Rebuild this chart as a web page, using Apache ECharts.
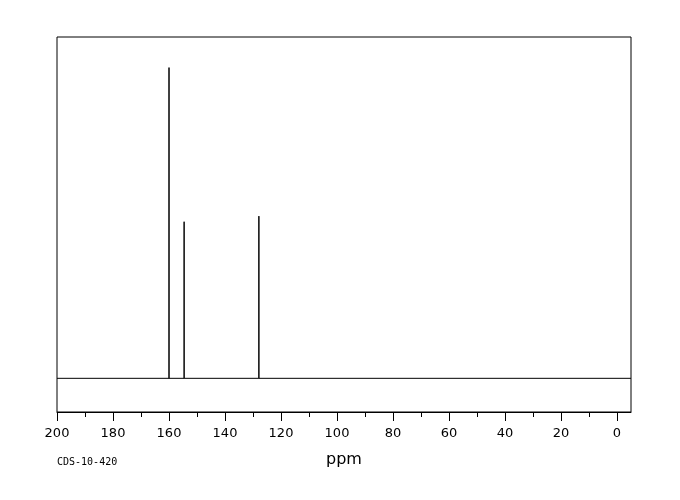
<!DOCTYPE html>
<html>
<head>
<meta charset="utf-8">
<script src="https://cdn.jsdelivr.net/npm/echarts@6/dist/echarts.min.js"></script>
<style>html,body{margin:0;padding:0;background:#fff}#c{width:680px;height:500px}</style>
</head>
<body>
<div id="c"></div>
<script>
var peakPpm = [160.0, 154.6, 127.9];
var peakHeight = [1000, 504, 522];
var majorTicks = [0, 20, 40, 60, 80, 100, 120, 140, 160, 180, 200];
var minorTicks = [10, 30, 50, 70, 90, 110, 130, 150, 170, 190];
var xRange = [-5, 200];

var spectrum = [[xRange[1], 0]];
for (var i = 0; i < peakPpm.length; i++) {
  spectrum.push([peakPpm[i], 0], [peakPpm[i], peakHeight[i]], [peakPpm[i], 0]);
}
spectrum.push([xRange[0], 0]);

var chart = echarts.init(document.getElementById('c'), null, {renderer: 'canvas'});
var font = 'DejaVu Sans';
chart.setOption({
  animation: false,
  grid: {left: 57, right: 49, top: 37, bottom: 88, show: true, borderColor: '#000', borderWidth: 1},
  xAxis: [{
    type: 'value', inverse: true, min: xRange[0], max: xRange[1],
    axisLine: {show: true, onZero: false, lineStyle: {color: '#000', width: 1}},
    axisTick: {show: true, length: 9, customValues: majorTicks, lineStyle: {color: '#000'}},
    axisLabel: {show: true, customValues: majorTicks, margin: 15, color: '#000', fontSize: 13, fontFamily: font},
    splitLine: {show: false},
    name: 'ppm', nameLocation: 'middle', nameGap: 40,
    nameTextStyle: {color: '#000', fontSize: 16, fontFamily: font}
  }, {
    type: 'value', inverse: true, min: xRange[0], max: xRange[1], position: 'bottom',
    axisLine: {show: false, onZero: false},
    axisTick: {show: true, length: 5, customValues: minorTicks, lineStyle: {color: '#000'}},
    axisLabel: {show: false},
    splitLine: {show: false}
  }],
  yAxis: {type: 'value', min: -108.4, max: 1098.4, show: false, splitLine: {show: false}},
  graphic: [{
    type: 'text', left: 57, top: 457,
    style: {text: 'CDS-10-420', fill: '#000', font: '10px "DejaVu Sans Mono"'}
  }],
  series: [{
    type: 'line', xAxisIndex: 0, data: spectrum, symbol: 'none',
    lineStyle: {color: '#000', width: 1}
  }]
});
</script>
</body>
</html>
